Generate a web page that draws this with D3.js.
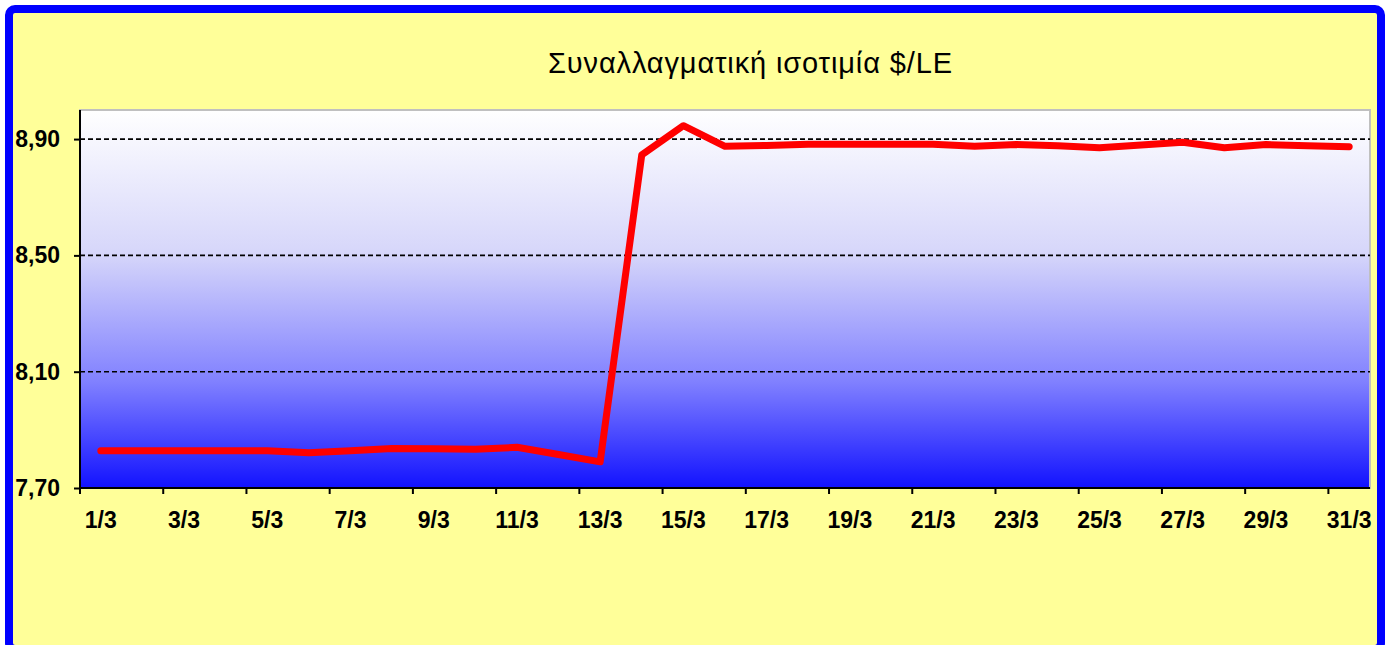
<!DOCTYPE html>
<html>
<head>
<meta charset="utf-8">
<script src="https://cdn.jsdelivr.net/npm/d3@7.9.0/dist/d3.min.js"></script>
<style>
  body { margin: 0; background: #fff; }
  svg { display: block; }
  .ylab text { font-family: "Liberation Sans", Arial, sans-serif; font-weight: bold; font-size: 23px; fill: #000; }
  .xlab text { font-family: "Liberation Sans", Arial, sans-serif; font-weight: bold; font-size: 23px; fill: #000; }
</style>
</head>
<body>
<svg id="chart" width="1393" height="645"></svg>
<script>
const title = "Συναλλαγματική ισοτιμία $/LE";

const days = ["1/3","2/3","3/3","4/3","5/3","6/3","7/3","8/3","9/3","10/3",
  "11/3","12/3","13/3","14/3","15/3","16/3","17/3","18/3","19/3","20/3",
  "21/3","22/3","23/3","24/3","25/3","26/3","27/3","28/3","29/3","30/3","31/3"];

const rate = [7.828, 7.828, 7.828, 7.828, 7.828, 7.821, 7.828, 7.836, 7.835, 7.833,
  7.840, 7.815, 7.790, 8.846, 8.946, 8.875, 8.878, 8.882, 8.882, 8.882,
  8.882, 8.875, 8.881, 8.877, 8.870, 8.880, 8.889, 8.870, 8.881, 8.877, 8.874];

const yTicks = [7.7, 8.1, 8.5, 8.9];
const xLabels = days.filter((d, i) => i % 2 === 0);

const svg = d3.select("#chart");
const plot = { left: 80, top: 110, right: 1370, bottom: 488 };

// background + frame
svg.append("rect")
  .attr("x", 9).attr("y", 9).attr("width", 1372).attr("height", 640)
  .attr("rx", 6)
  .attr("fill", "#ffff99")
  .attr("stroke", "#0000ff")
  .attr("stroke-width", 8);

const defs = svg.append("defs");
const grad = defs.append("linearGradient")
  .attr("id", "bg").attr("x1", 0).attr("y1", 0).attr("x2", 0).attr("y2", 1);
[[0, "#ffffff"], [0.38, "#d6d6fa"], [0.72, "#8080ff"], [1, "#1212ff"]].forEach(([o, c]) => {
  grad.append("stop").attr("offset", o).attr("stop-color", c);
});

const x = d3.scaleBand().domain(days).range([plot.left, plot.right]).padding(0);
const y = d3.scaleLinear().domain([7.7, 9.0]).range([plot.bottom, plot.top]);

svg.append("rect")
  .attr("x", plot.left).attr("y", plot.top)
  .attr("width", plot.right - plot.left).attr("height", plot.bottom - plot.top)
  .attr("fill", "url(#bg)")
  .attr("stroke", "#c0c0c0")
  .attr("stroke-width", 2);

// dashed grid
svg.append("g")
  .selectAll("line")
  .data(yTicks.slice(1))
  .join("line")
  .attr("x1", plot.left).attr("x2", plot.right)
  .attr("y1", d => y(d)).attr("y2", d => y(d))
  .attr("stroke", "#000")
  .attr("stroke-width", 1.6)
  .attr("stroke-dasharray", "5,3");

// y axis
const yAxis = d3.axisLeft(y)
  .tickValues(yTicks)
  .tickSize(6)
  .tickPadding(14)
  .tickFormat(d => d3.format(".2f")(d).replace(".", ","));

const gy = svg.append("g")
  .attr("class", "ylab")
  .attr("transform", `translate(${plot.left},0)`)
  .call(yAxis);
gy.select(".domain").attr("stroke", "#000").attr("stroke-width", 2)
  .attr("d", `M0,${plot.top}V${plot.bottom}`);
gy.selectAll(".tick line").attr("stroke", "#000").attr("stroke-width", 2);

// x axis: labels on odd days, tick marks at band edges
const xAxis = d3.axisBottom(x)
  .tickValues(xLabels)
  .tickSize(0)
  .tickPadding(24);

const gx = svg.append("g")
  .attr("class", "xlab")
  .attr("transform", `translate(0,${plot.bottom})`)
  .call(xAxis);
gx.select(".domain").attr("stroke", "#000").attr("stroke-width", 2)
  .attr("d", `M${plot.left},0H${plot.right}`);

gx.selectAll(".edge")
  .data(xLabels)
  .join("line")
  .attr("class", "edge")
  .attr("x1", d => x(d)).attr("x2", d => x(d))
  .attr("y1", 0).attr("y2", 6)
  .attr("stroke", "#000")
  .attr("stroke-width", 2);

// the rate line
const line = d3.line()
  .x((d, i) => x(days[i]) + x.bandwidth() / 2)
  .y(d => y(d));

svg.append("path")
  .datum(rate)
  .attr("d", line)
  .attr("fill", "none")
  .attr("stroke", "#ff0000")
  .attr("stroke-width", 7)
  .attr("stroke-linecap", "round")
  .attr("stroke-linejoin", "round");

// title
svg.append("text")
  .attr("x", 750).attr("y", 73)
  .attr("text-anchor", "middle")
  .attr("font-family", "Liberation Sans, Arial, sans-serif")
  .attr("font-size", 29)
  .attr("textLength", 404)
  .attr("lengthAdjust", "spacing")
  .text(title);
</script>
</body>
</html>
